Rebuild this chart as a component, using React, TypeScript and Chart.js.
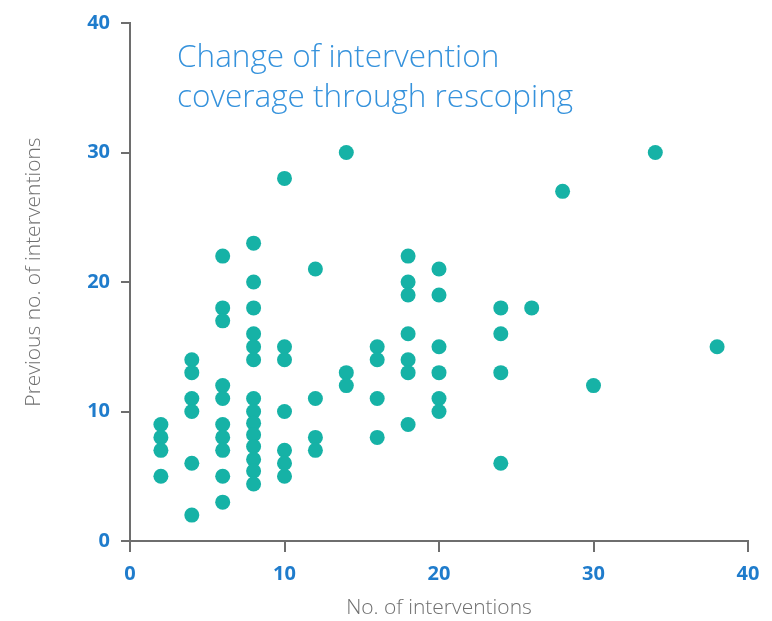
import { useEffect, useRef } from 'react';
import { Chart, registerables } from 'chart.js';

Chart.register(...registerables);

// No. of interventions (x) for each programme
const interventions = [
  2, 2, 2, 2,
  4, 4, 4, 4, 4, 4,
  6, 6, 6, 6, 6, 6, 6, 6, 6, 6,
  8, 8, 8, 8, 8, 8, 8, 8, 8, 8, 8, 8, 8, 8,
  10, 10, 10, 10, 10, 10, 10,
  12, 12, 12, 12,
  14, 14, 14,
  16, 16, 16, 16,
  18, 18, 18, 18, 18, 18, 18,
  20, 20, 20, 20, 20, 20,
  24, 24, 24, 24,
  26,
  28,
  30,
  34,
  38,
];

// Previous no. of interventions (y) for each programme
const previousInterventions = [
  9, 8, 7, 5,
  14, 13, 11, 10, 6, 2,
  22, 18, 17, 12, 11, 9, 8, 7, 5, 3,
  23, 20, 18, 16, 15, 14, 11, 10, 9.1, 8.2, 7.3, 6.3, 5.4, 4.4,
  28, 15, 14, 10, 7, 6, 5,
  21, 11, 8, 7,
  30, 13, 12,
  15, 14, 11, 8,
  22, 20, 19, 16, 14, 13, 9,
  21, 19, 15, 13, 11, 10,
  18, 16, 13, 6,
  18,
  27,
  12,
  30,
  15,
];

const axisMin = 0;
const axisMax = 40;
const tickStep = 10;

const titleLines = ['Change of intervention', 'coverage through rescoping'];
const xAxisTitle = 'No. of interventions';
const yAxisTitle = 'Previous no. of interventions';

const POINT_COLOR = '#16b2a6';
const AXIS_COLOR = '#6e6e6e';
const TICK_COLOR = '#1f7ccc';
const TITLE_COLOR = '#3592dc';
const AXIS_TITLE_COLOR = '#707070';

export default function App() {
  const canvasRef = useRef<HTMLCanvasElement | null>(null);

  useEffect(() => {
    const canvas = canvasRef.current;
    if (!canvas) return;

    const textPlugin = {
      id: 'insetTexts',
      afterDraw(chart: any) {
        const { ctx, chartArea } = chart;
        ctx.save();
        // inset title
        ctx.font = '300 31.5px "Open Sans"';
        ctx.fillStyle = TITLE_COLOR;
        ctx.textAlign = 'left';
        ctx.textBaseline = 'alphabetic';
        ctx.fillText(titleLines[0], chartArea.left + 47, chartArea.top + 44);
        ctx.fillText(titleLines[1], chartArea.left + 47, chartArea.top + 84);
        // y axis title
        ctx.font = '300 21px "Open Sans"';
        ctx.fillStyle = AXIS_TITLE_COLOR;
        ctx.textAlign = 'center';
        ctx.textBaseline = 'middle';
        ctx.translate(34, (chartArea.top + chartArea.bottom) / 2 - 10);
        ctx.rotate(-Math.PI / 2);
        ctx.fillText(yAxisTitle, 0, 0);
        ctx.restore();
      },
    };

    const chart = new Chart(canvas, {
      type: 'scatter',
      data: {
        datasets: [
          {
            data: interventions.map((x, i) => ({ x, y: previousInterventions[i] })),
            backgroundColor: POINT_COLOR,
            borderWidth: 0,
            pointRadius: 7.5,
            pointHoverRadius: 7.5,
          },
        ],
      },
      options: {
        animation: false,
        responsive: false,
        maintainAspectRatio: false,
        layout: { padding: { top: 18, right: 24, left: 0, bottom: 0 } },
        plugins: {
          legend: { display: false },
          tooltip: { enabled: false },
          title: { display: false },
        },
        scales: {
          x: {
            type: 'linear',
            min: axisMin,
            max: axisMax,
            afterFit: (s: any) => {
              s.height = 80;
            },
            ticks: {
              stepSize: tickStep,
              color: TICK_COLOR,
              padding: 10,
              font: { family: '"Open Sans"', size: 20, weight: 'bold' },
            },
            border: { display: true, color: AXIS_COLOR, width: 2 },
            grid: {
              display: true,
              drawOnChartArea: false,
              drawTicks: true,
              tickLength: 11,
              color: AXIS_COLOR,
              lineWidth: 2,
            },
            title: {
              display: true,
              text: xAxisTitle,
              color: AXIS_TITLE_COLOR,
              font: { family: '"Open Sans"', size: 21, weight: '300' },
              padding: { top: 0, bottom: 0 },
            },
          },
          y: {
            type: 'linear',
            min: axisMin,
            max: axisMax,
            afterFit: (s: any) => {
              s.width = 130;
            },
            ticks: {
              stepSize: tickStep,
              color: TICK_COLOR,
              padding: 11,
              font: { family: '"Open Sans"', size: 20, weight: 'bold' },
            },
            border: { display: true, color: AXIS_COLOR, width: 2 },
            grid: {
              display: true,
              drawOnChartArea: false,
              drawTicks: true,
              tickLength: 9,
              color: AXIS_COLOR,
              lineWidth: 2,
            },
            title: { display: false },
          },
        },
      },
      plugins: [textPlugin],
    });

    return () => chart.destroy();
  }, []);

  return (
    <div style={{ position: 'absolute', left: 0, top: 0, width: 772, height: 621, background: '#fff' }}>
      <canvas ref={canvasRef} width={772} height={621} style={{ width: 772, height: 621 }} />
    </div>
  );
}
